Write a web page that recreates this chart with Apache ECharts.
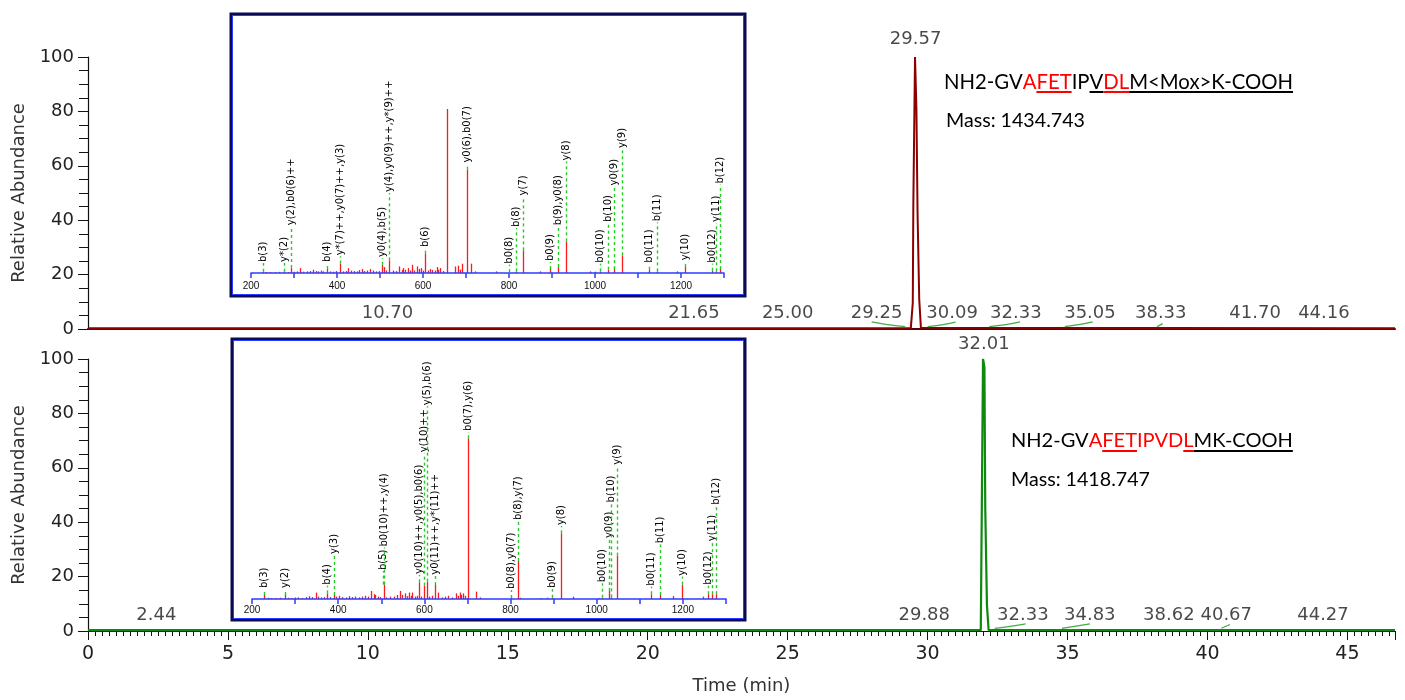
<!DOCTYPE html>
<html><head><meta charset="utf-8">
<script src="https://cdn.jsdelivr.net/npm/echarts@6/dist/echarts.min.js"></script>
<style>html,body{margin:0;padding:0;background:#fff}#c{width:1405px;height:700px}</style>
</head><body><div id="c"></div>
<script>
// ================= DATA =================
// Chromatograms: [time (min), relative abundance %]
const topTrace = [[0,0.3],[29.40,0.3],[29.44,0.6],[29.47,9.6],[29.49,46],[29.55,100],[29.60,81],[29.64,43],[29.70,11],[29.76,0.5],[29.80,0.3],[46.7,0.3]];
const topMainPeak = [29.57, 100];
const topPeakTimes = [10.70, 21.65, 25.00, 29.25, 30.09, 32.33, 35.05, 38.33, 41.70, 44.16];
const topMinorMarks = [
  [[28.0,2.6],[28.5,1.7],[29.2,0.9]],
  [[30.0,0.9],[30.5,1.5],[31.0,2.5]],
  [[32.2,0.9],[32.8,1.6],[33.3,2.6]],
  [[34.9,0.9],[35.4,1.6],[35.9,2.6]],
  [[38.2,0.9],[38.4,2.0]]
];
const bottomTrace = [[0,0.3],[31.90,0.3],[31.94,50],[31.98,100],[32.03,97],[32.06,45],[32.12,9.5],[32.18,0.3],[46.7,0.3]];
const bottomMainPeak = [32.01, 100];
const bottomPeakTimes = [2.44, 29.88, 32.33, 34.83, 38.62, 40.67, 44.27];
const bottomMinorMarks = [
  [[32.4,1.0],[33.0,1.8],[33.5,2.6]],
  [[34.8,1.0],[35.3,1.8],[35.8,2.6]],
  [[40.5,1.0],[40.8,2.4]]
];
const timeTicks = [0,5,10,15,20,25,30,35,40,45];
const abundanceTicks = [0,20,40,60,80,100];

// MS/MS spectra: [m/z, relative intensity %]
const topSpectrum = [[227,0.8],[235,0.6],[245,0.6],[255,0.5],[265,0.7],[277,0.8],[285,0.6],[293,3.0],[300,0.8],[307,1.0],[314,3.0],[322,0.8],[330,1.0],[338,1.2],[345,2.0],[350,1.2],[356,1.0],[362,1.5],[368,1.0],[376,2.4],[383,1.0],[390,0.8],[398,1.2],[407,5.7],[414,1.0],[420,1.2],[426,3.0],[432,1.5],[440,1.2],[446,1.0],[452,1.8],[457,2.4],[463,1.2],[470,1.5],[477,2.4],[484,1.5],[490,1.0],[497,1.2],[504,5.0],[509,3.6],[515,1.5],[522,7.7],[530,1.5],[537,1.2],[545,4.0],[550,1.8],[554,3.0],[559,2.0],[564,3.0],[569,1.5],[574,5.0],[580,1.5],[587,4.0],[591,2.5],[595,3.0],[600,1.5],[605,11.8],[611,1.5],[616,2.4],[621,1.8],[627,1.5],[632,3.6],[636,2.0],[640,3.0],[646,1.2],[655,100],[674,4.0],[682,4.5],[687,2.0],[690,5.7],[701.5,63],[711,5.7],[720,1.0],[769,1.0],[816,1.0],[832,13.8],[872,1.0],[895.5,2.4],[915,3.7],[932.5,19.3],[988,1.0],[1000,0.8],[1011.6,1.0],[1029.5,2.0],[1044,2.4],[1062,10.8],[1125.6,2.0],[1144,1.0],[1190,1.0],[1209,3.7],[1273,1.4],[1280.6,1.0],[1291.5,2.4]];
const topIonLabels = ['b(3)','y*(2)','y(2),b0(6)++','b(4)','y*(7)++,y0(7)++,y(3)','y0(4),b(5)','y(4),y0(9)++,y*(9)++','b(6)','y0(6),b0(7)','b0(8)','b(8)','y(7)','b0(9)','b(9),y0(8)','y(8)','b0(10)','b(10)','y0(9)','y(9)','b0(11)','b(11)','y(10)','b0(12)','y(11)','b(12)'];
const topIonMz = [227,277,293,376,407,504,522,605,701.5,799,816,832,895.5,915,932.5,1011.6,1029.5,1044,1062,1125.6,1144,1209,1273,1280.6,1291.5];
const topIonIntensity = [0.8,0.8,3.0,2.4,5.7,5.0,7.7,11.8,63,0.5,1.0,13.8,2.4,3.7,19.3,1.0,2.0,2.4,10.8,2.0,1.0,3.7,1.4,1.0,2.4];
const topIonLevel = [6.1,6.1,28.5,6.1,10.2,9.1,48.8,15.2,66.7,5.1,27.4,46.7,6.7,28.5,68,5.7,30.5,52.8,75.6,5.7,30.9,7.1,5.7,30.5,53.9];

const bottomSpectrum = [[228,2.5],[236,0.8],[245,0.6],[255,0.6],[265,0.8],[277,2.5],[284,0.8],[292,0.6],[300,1.0],[306,1.0],[315,0.6],[325,1.2],[332,1.8],[340,1.2],[348,4.0],[354,1.5],[360,1.0],[366,1.2],[375,3.5],[382,1.2],[390,2.5],[396,1.5],[403,2.0],[410,1.2],[418,1.0],[425,1.8],[432,1.2],[440,1.5],[448,1.0],[456,1.5],[463,2.0],[470,1.5],[477,5.0],[482,3.0],[486,2.5],[492,1.5],[498,1.2],[505.7,9.0],[512,1.0],[520,1.5],[530,1.5],[537,2.5],[544,5.0],[549,2.5],[554,3.5],[559,1.8],[564,4.0],[568,2.0],[572,4.0],[578,1.5],[582,2.0],[588,10.4],[593,1.5],[598.6,8.3],[605,10.8],[610,1.5],[617,2.0],[624,8.7],[632,4.0],[640,1.0],[648,1.5],[656,2.0],[664,1.0],[674,3.5],[678,2.0],[682,4.0],[686,2.5],[690,3.5],[695,2.0],[701.5,100],[719,4.6],[728,1.0],[800,0.6],[817,23.7],[822,0.8],[870,0.6],[885,0.8],[897,0.8],[918,40.9],[945,1.5],[1005,0.6],[1012.7,0.8],[1029,5.0],[1034,1.0],[1048,27],[1127,3.0],[1146.6,2.5],[1176,1.8],[1197,9.0],[1247,1.5],[1259,3.0],[1268,3.0],[1276.6,3.0]];
const bottomIonLabels = ['b(3)','y(2)','b(4)','y(3)','b(5)','b0(10)++,y(4)','y0(10)++,y0(5),b0(6)','y(10)++','y(5),b(6)','y0(11)++,y*(11)++','b0(7),y(6)','b0(8),y0(7)','b(8),y(7)','b0(9)','y(8)','b0(10)','y0(9)','b(10)','y(9)','b0(11)','b(11)','y(10)','b0(12)','y(11)','b(12)'];
const bottomIonMz = [228,277,375,390,505,507,588,599,606,624,701.5,800,817,897,918,1012.7,1029,1034,1048,1127,1146.6,1197,1259,1268,1276.6];
const bottomIonIntensity = [2.5,2.5,3.5,2.5,9.0,9.0,10.4,8.3,10.8,8.7,100,0.6,23.7,0.8,40.9,0.8,5.0,1.0,27,3.0,2.5,9.0,3.0,3.0,3.0];
const bottomIonLevel = [6.2,6.2,8.3,27.4,17.4,32,15,90.7,120,14.5,104,5.6,48.5,6.2,45.4,9.8,37.3,59.5,83,7.7,34,13.9,8.3,35.3,58];

// Annotation texts
const topPeptide = [['NH2-GV','#000',false],['A','#ff0000',false],['FET','#ff0000',true],['IP','#000',false],['V','#000',true],['DL','#ff0000',true],['M<Mox>K-COOH','#000',true]];
const topMass = 'Mass: 1434.743';
const bottomPeptide = [['NH2-GV','#000',false],['A','#ff0000',false],['FET','#ff0000',true],['IPVD','#ff0000',false],['L','#ff0000',true],['MK-COOH','#000',true]];
const bottomMass = 'Mass: 1418.747';

// ================= CHART =================
const FONT = 'DejaVu Sans';
const chart = echarts.init(document.getElementById('c'));
const topShift = [0,0,0,-30,22,23,21,0,0,0];
const bottomShift = [0,0,30,27,0,0,-4];

function peakLabels(times, shifts, main, grid, mainDy) {
  const data = times.map((t,i)=>({value:[t,0.5], label:{offset:[shifts[i],0]}}));
  data.push({value:main, label:{offset:[0,mainDy]}});
  return {type:'scatter', xAxisIndex:grid, yAxisIndex:grid, symbolSize:0, silent:true, z:5,
    data, label:{show:true, position:'top', distance:4, formatter:p=>p.value[0].toFixed(2),
      fontFamily:FONT, fontSize:18, lineHeight:20, color:'#1a1a1a'}};
}
function minorMarkSeries(marks, grid){
  return marks.map(m=>({type:'line', xAxisIndex:grid, yAxisIndex:grid, data:m, showSymbol:false,
    smooth:true, lineStyle:{color:'#44aa44', width:1.3}, silent:true, z:3}));
}
function stickSeries(spec, grid){
  return {type:'custom', xAxisIndex:grid, yAxisIndex:grid, data:spec, silent:true, z:3,
    renderItem:(params, api)=>{
      const p0 = api.coord([api.value(0),0]);
      const p1 = api.coord([api.value(0),api.value(1)]);
      const x = Math.round(p0[0])+0.5;
      return {type:'line', shape:{x1:x,y1:p0[1],x2:x,y2:p1[1]}, style:{stroke:'#ff1a1a', lineWidth:1.3}};
    }};
}
function annotSeries(mz, inten, level, labels, grid){
  const data = mz.map((m,i)=>[m, inten[i], level[i]]);
  return {type:'custom', xAxisIndex:grid, yAxisIndex:grid, data, silent:true, z:4, clip:false,
    renderItem:(params, api)=>{
      const m = api.value(0);
      const p0 = api.coord([m, api.value(1)]);
      const p1 = api.coord([m, api.value(2)]);
      const x = Math.round(p0[0])+0.5;
      return {type:'group', children:[
        {type:'line', shape:{x1:x,y1:p0[1],x2:x,y2:p1[1]}, style:{stroke:'#22cc22', lineWidth:1.4, lineDash:[3,3]}},
        {type:'text', x:x, y:p1[1]-1, rotation:Math.PI/2,
          style:{text:labels[params.dataIndex], fontFamily:FONT, fontSize:10, fill:'#000', align:'left', verticalAlign:'middle'}}
      ]};
    }};
}

// text helpers
const mctx = document.createElement('canvas').getContext('2d');
function measure(t, size, fam){ mctx.font = size+'px '+fam; return mctx.measureText(t).width; }
function buildPeptide(segs, x0, yc, targetW, ulY){
  const fam = 'Lato';
  const full = segs.map(s=>s[0]).join('');
  const size = 20*targetW/measure(full,20,fam);
  const els = [];
  let x = x0;
  segs.forEach(s=>{
    const w = measure(s[0], size, fam);
    els.push({type:'text', x:x, y:yc, style:{text:s[0], fontFamily:fam, fontSize:size, fill:s[1], align:'left', verticalAlign:'middle'}});
    if (s[2]) els.push({type:'line', shape:{x1:x,y1:ulY,x2:x+w,y2:ulY}, style:{stroke:s[1], lineWidth:2}});
    x += w;
  });
  return els;
}
function buildMass(t, x0, yc, targetW){
  const fam='Lato';
  const size = 20*targetW/measure(t,20,fam);
  return [{type:'text', x:x0, y:yc, style:{text:t, fontFamily:fam, fontSize:size, fill:'#000', align:'left', verticalAlign:'middle'}}];
}

const insetAxis = (gi)=>({type:'value', gridIndex:gi, min:200, max:1300, interval:100, z:3,
  axisLine:{lineStyle:{color:'#2a3cff', width:1.5}}, axisTick:{length:5, lineStyle:{color:'#2a3cff', width:1.5}},
  axisLabel:{margin:gi===2?8:6, fontFamily:'Liberation Sans', fontSize:10, color:'#111', formatter:v=>(v%200===0&&v<=1200)?String(v):''},
  splitLine:{show:false}});
const insetY = (gi)=>({type:'value', gridIndex:gi, min:0, max:150, show:false});

const mainY = (gi)=>({type:'value', gridIndex:gi, min:abundanceTicks[0], max:abundanceTicks[abundanceTicks.length-1], interval:20,
  name:'Relative Abundance', nameLocation:'middle', nameGap:56, nameTextStyle:{fontFamily:FONT, fontSize:18, color:'#333'},
  axisLine:{show:true, lineStyle:{color:'#111', width:1.2}}, axisTick:{show:true, length:10, lineStyle:{color:'#111'}},
  minorTick:{show:true, splitNumber:4, length:9, lineStyle:{color:'#111'}},
  axisLabel:{margin:14, fontFamily:FONT, fontSize:18, color:'#222'}, splitLine:{show:false}});

const G = {outerBoundsMode:'none', containLabel:false};
const option = {
  animation:false,
  backgroundColor:'#fff',
  grid:[
    Object.assign({left:88, top:57, width:1307, height:272}, G),
    Object.assign({left:88, top:359, width:1307, height:272}, G),
    Object.assign({left:251, top:27, width:473, height:246}, G),
    Object.assign({left:252, top:358, width:474, height:241}, G)
  ],
  xAxis:[
    {type:'value', gridIndex:0, min:0, max:46.7, interval:5, axisLine:{lineStyle:{color:'#5a0000', width:2}}, axisTick:{show:false}, axisLabel:{show:false}, splitLine:{show:false}},
    {type:'value', gridIndex:1, min:timeTicks[0], max:46.7, interval:5, name:'Time (min)', nameLocation:'middle', nameGap:46,
      nameTextStyle:{fontFamily:FONT, fontSize:18, color:'#333'},
      axisLine:{lineStyle:{color:'#111', width:1.2}}, axisTick:{length:9, lineStyle:{color:'#111'}},
      minorTick:{show:true, splitNumber:20, length:5, lineStyle:{color:'#111'}},
      axisLabel:{margin:14, fontFamily:FONT, fontSize:19, color:'#222', showMaxLabel:false}, splitLine:{show:false}},
    insetAxis(2), insetAxis(3)
  ],
  yAxis:[mainY(0), mainY(1), insetY(2), insetY(3)],
  graphic:[
    {type:'rect', z:1, shape:{x:231, y:14, width:514, height:282}, style:{fill:'none', stroke:'#0b0b55', lineWidth:3}},
    {type:'rect', z:1, shape:{x:232.5, y:15.5, width:511, height:279}, style:{fill:'none', stroke:'#2a3cff', lineWidth:1}},
    {type:'rect', z:1, shape:{x:232, y:339, width:513, height:281}, style:{fill:'none', stroke:'#0b0b55', lineWidth:3}},
    {type:'rect', z:1, shape:{x:233.5, y:340.5, width:510, height:278}, style:{fill:'none', stroke:'#2a3cff', lineWidth:1}},
    ...buildPeptide(topPeptide, 944, 82, 348, 92),
    ...buildMass(topMass, 946, 120.5, 139),
    ...buildPeptide(bottomPeptide, 1011, 440.5, 281, 451),
    ...buildMass(bottomMass, 1011, 479.5, 139)
  ],
  series:[
    {type:'line', xAxisIndex:0, yAxisIndex:0, data:topTrace, showSymbol:false, lineStyle:{color:'#8b0000', width:2}, z:2},
    {type:'line', xAxisIndex:1, yAxisIndex:1, data:bottomTrace, showSymbol:false, lineStyle:{color:'#0d8a0d', width:2.2}, z:2},
    ...minorMarkSeries(topMinorMarks, 0),
    ...minorMarkSeries(bottomMinorMarks, 1),
    peakLabels(topPeakTimes, topShift, topMainPeak, 0, -4),
    peakLabels(bottomPeakTimes, bottomShift, bottomMainPeak, 1, -1),
    stickSeries(topSpectrum, 2),
    stickSeries(bottomSpectrum, 3),
    annotSeries(topIonMz, topIonIntensity, topIonLevel, topIonLabels, 2),
    annotSeries(bottomIonMz, bottomIonIntensity, bottomIonLevel, bottomIonLabels, 3)
  ]
};
chart.setOption(option);
</script></body></html>
